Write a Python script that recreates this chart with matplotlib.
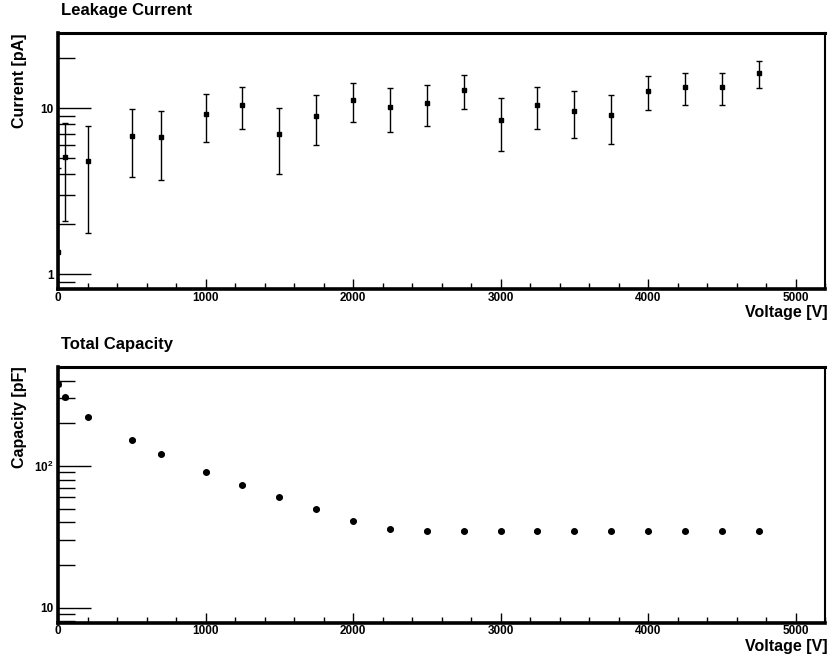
import numpy as np
import matplotlib
matplotlib.use("Agg")
import matplotlib.pyplot as plt
from matplotlib.ticker import FixedLocator, FixedFormatter, MultipleLocator, LogLocator, NullFormatter

plt.rcParams['font.family'] = ['Liberation Sans', 'DejaVu Sans']
plt.rcParams['font.weight'] = 'bold'
plt.rcParams['mathtext.fontset'] = 'custom'
plt.rcParams['mathtext.rm'] = 'Liberation Sans:bold'
plt.rcParams['mathtext.bf'] = 'Liberation Sans:bold'

# Bias voltage steps [V]
voltage = [0, 50, 200, 500, 700, 1000, 1250, 1500, 1750, 2000, 2250,
           2500, 2750, 3000, 3250, 3500, 3750, 4000, 4250, 4500, 4750]

# Leakage current [pA] and its uncertainty
current = [1.36, 5.1, 4.77, 6.84, 6.68, 9.24, 10.47, 7.0, 8.99, 11.2, 10.2,
           10.8, 12.9, 8.54, 10.5, 9.63, 9.07, 12.7, 13.4, 13.4, 16.2]
current_err = [3.0, 3.0, 3.0, 3.0, 3.0, 3.0, 3.0, 3.0, 3.0, 3.0, 3.0,
               3.0, 3.0, 3.0, 3.0, 3.0, 3.0, 3.0, 3.0, 3.0, 3.0]

# Total capacity [pF] and its uncertainty
capacity = [380, 305, 221, 152, 121, 90.7, 73.5, 60.4, 49.7, 41.1, 36.1,
            34.7, 34.7, 34.7, 34.7, 34.6, 34.6, 34.6, 34.6, 34.6, 34.6]
capacity_err = [12, 8, 3, 2, 1.5, 1, 1, 0.8, 0.6, 0.5, 0.5,
                0.4, 0.4, 0.4, 0.4, 0.4, 0.4, 0.4, 0.4, 0.4, 0.4]

W, H = 830, 655
fig = plt.figure(figsize=(W / 100, H / 100), dpi=100)

ax_l, ax_w = 58 / W, 767 / W
ax_h = 256 / H
ax1 = fig.add_axes([ax_l, 1 - 289 / H, ax_w, ax_h])
ax2 = fig.add_axes([ax_l, 1 - 622.7 / H, ax_w, ax_h])


def style_axes(ax, ylim, major, major_labels, ylabel):
    ax.set_xlim(0, 5200)
    ax.set_yscale('log', nonpositive='clip')
    ax.set_ylim(*ylim)
    ax.xaxis.set_major_locator(MultipleLocator(1000))
    ax.xaxis.set_minor_locator(MultipleLocator(200))
    ax.yaxis.set_major_locator(FixedLocator(major))
    ax.yaxis.set_major_formatter(FixedFormatter(major_labels))
    ax.yaxis.set_minor_locator(LogLocator(base=10, subs=np.arange(2, 10)))
    ax.yaxis.set_minor_formatter(NullFormatter())
    ax.tick_params(axis='x', which='major', direction='in', length=7, width=1.0,
                   labelsize=8.5, pad=2, top=False)
    ax.tick_params(axis='x', which='minor', direction='in', length=4, width=1.0, top=False)
    ax.tick_params(axis='y', which='major', direction='in', length=24, width=1.0,
                   labelsize=8.5, pad=3, right=False)
    ax.tick_params(axis='y', which='minor', direction='in', length=12, width=1.0, right=False)
    for lab in ax.get_xticklabels() + ax.get_yticklabels():
        lab.set_fontweight('bold')
    for side in ['left', 'bottom']:
        ax.spines[side].set_linewidth(2.6)
    ax.spines['top'].set_linewidth(2.2)
    ax.spines['right'].set_linewidth(1.5)
    for sp in ax.spines.values():
        sp.set_zorder(5)
    ax.set_xlabel('Voltage [V]', fontsize=11.5, fontweight='bold', ha='right', va='top')
    ax.xaxis.set_label_coords(1.004, -0.062)
    ax.set_ylabel(ylabel, fontsize=11.5, fontweight='bold', ha='right')
    ax.yaxis.set_label_coords(-0.04, 1.0)


ax1.errorbar(voltage, current, yerr=current_err, fmt='s', color='black', ms=2.8,
             ecolor='black', elinewidth=1.0, capsize=2.2, capthick=1.0, clip_on=True)
style_axes(ax1, (0.812, 28.4), [1, 10], ['1', '10'], 'Current [pA]')

ax2.errorbar(voltage, capacity, yerr=capacity_err, fmt='o', color='black', ms=4,
             ecolor='black', elinewidth=1.0, capsize=2, capthick=1.0, clip_on=True)
style_axes(ax2, (7.83, 502), [10, 100], ['10', r'$\mathbf{10^{2}}$'], 'Capacity [pF]')

fig.text(61 / W, 1 - 11 / H, 'Leakage Current', fontsize=12, fontweight='bold',
         ha='left', va='center')
fig.text(61 / W, 1 - 345 / H, 'Total Capacity', fontsize=12, fontweight='bold',
         ha='left', va='center')

fig.savefig('out.png', dpi=100)
